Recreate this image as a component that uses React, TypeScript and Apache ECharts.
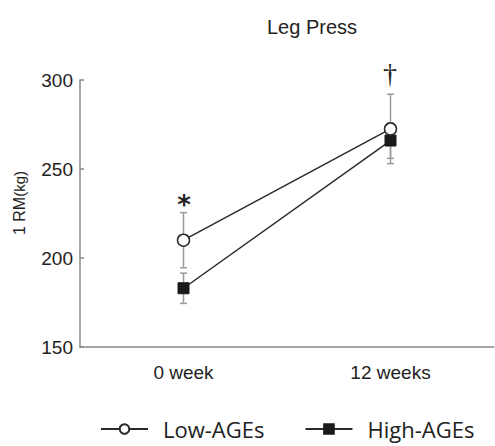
import React, { useEffect, useRef } from "react";
import * as echarts from "echarts";

const categories = ["0 week", "12 weeks"];
const lowMeans = [210, 272.5];
const lowErr = [15.5, 19.5];
const highMeans = [183, 266];
const highErr = [8.5, 10];
const yTicks = [150, 200, 250, 300];

export default function App() {
  const ref = useRef<HTMLDivElement>(null);
  useEffect(() => {
    if (!ref.current) return;
    const chart = echarts.init(ref.current, null, { renderer: "svg" });
    const errData = (means: number[], errs: number[]) =>
      means.map((m, i) => [i, m - errs[i], m + errs[i]]);
    const errSeries = (name: string, means: number[], errs: number[]) => ({
      type: "custom",
      name: name + "-err",
      z: 1,
      silent: true,
      data: errData(means, errs),
      renderItem: (params: any, api: any) => {
        const lo = api.coord([api.value(0), api.value(1)]);
        const hi = api.coord([api.value(0), api.value(2)]);
        const w = 3.5;
        const style = { stroke: "#9a9a9a", lineWidth: 1.5 };
        return {
          type: "group",
          children: [
            { type: "line", shape: { x1: lo[0], y1: lo[1], x2: hi[0], y2: hi[1] }, style },
            { type: "line", shape: { x1: lo[0] - w, y1: lo[1], x2: lo[0] + w, y2: lo[1] }, style },
            { type: "line", shape: { x1: hi[0] - w, y1: hi[1], x2: hi[0] + w, y2: hi[1] }, style },
          ],
        };
      },
    });
    chart.setOption({
      animation: false,
      title: {
        text: "Leg Press",
        left: 307,
        top: 12,
        textAlign: "center",
        textStyle: { fontFamily: "Liberation Sans", fontSize: 20, fontWeight: "normal", color: "#222" },
      },
      grid: { left: 80, right: 1, top: 80, bottom: 99 },
      xAxis: {
        type: "category",
        data: categories,
        boundaryGap: true,
        axisLine: { lineStyle: { color: "#8a8a8a", width: 1.5 } },
        axisTick: { inside: true, length: 4, lineStyle: { color: "#8a8a8a", width: 1.5 } },
        axisLabel: { fontFamily: "Liberation Sans", fontSize: 19, color: "#222", margin: 16 },
      },
      yAxis: {
        type: "value",
        min: yTicks[0],
        max: yTicks[yTicks.length - 1],
        interval: 50,
        splitLine: { show: false },
        axisLine: { show: true, lineStyle: { color: "#8a8a8a", width: 1.5 } },
        axisTick: { show: true, inside: true, length: 4, lineStyle: { color: "#8a8a8a", width: 1.5 } },
        axisLabel: { fontFamily: "Liberation Sans", fontSize: 19, color: "#222", margin: 7 },
      },
      legend: {
        bottom: 4,
        left: 100,
        padding: 0,
        itemWidth: 47,
        itemHeight: 12,
        itemGap: 40,
        textStyle: { fontFamily: "Open Sans", fontSize: 22, lineHeight: 26, color: "#222", padding: [0, 0, 0, 10] },
        data: ["Low-AGEs", "High-AGEs"],
      },
      graphic: [
        {
          type: "text",
          x: 19,
          y: 203,
          rotation: Math.PI / 2,
          style: {
            text: "1 RM{s|(kg)}",
            fontFamily: "Liberation Sans",
            fontSize: 16,
            fill: "#222",
            align: "center",
            verticalAlign: "middle",
            rich: { s: { fontSize: 15, fontFamily: "Liberation Sans", fill: "#222" } },
          },
        },
        {
          type: "text",
          x: 184,
          y: 205,
          style: { text: "*", fontFamily: "DejaVu Sans", fontSize: 26, fontWeight: "bold", fill: "#222", align: "center", verticalAlign: "middle" },
        },
        {
          type: "text",
          x: 390,
          y: 73,
          style: { text: "†", fontFamily: "Liberation Serif", fontSize: 28, fill: "#222", align: "center", verticalAlign: "middle" },
        },
      ],
      series: [
        errSeries("Low-AGEs", lowMeans, lowErr),
        errSeries("High-AGEs", highMeans, highErr),
        {
          type: "line",
          name: "High-AGEs",
          z: 3,
          data: highMeans,
          symbol: "rect",
          symbolSize: 11,
          lineStyle: { color: "#2a2a2a", width: 1.5 },
          itemStyle: { color: "#1a1a1a", borderColor: "#1a1a1a", borderWidth: 1 },
        },
        {
          type: "line",
          name: "Low-AGEs",
          z: 4,
          data: lowMeans,
          symbol: "circle",
          symbolSize: 12,
          showAllSymbol: true,
          lineStyle: { color: "#2a2a2a", width: 1.5 },
          itemStyle: { color: "#fff", borderColor: "#2a2a2a", borderWidth: 1.5 },
        },
      ],
    });
    return () => chart.dispose();
  }, []);
  return <div ref={ref} style={{ width: 495, height: 446, position: "absolute", left: 0, top: 0 }} />;
}
